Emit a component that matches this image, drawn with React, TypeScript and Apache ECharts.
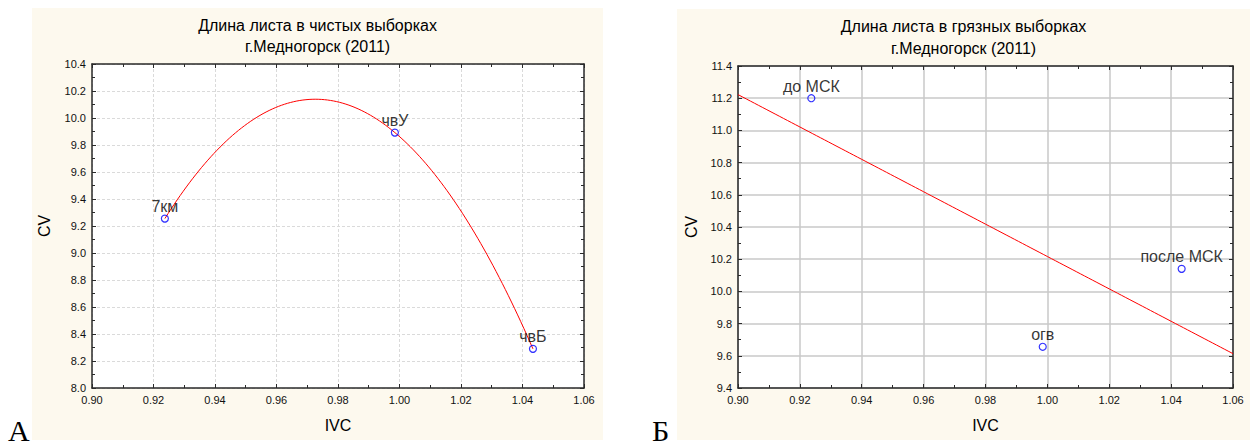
import React, { useEffect, useRef } from "react";
import * as echarts from "echarts";

// ---- Data ----
const xMin = 0.9;
const xMax = 1.06;
const xStep = 0.02;

const cleanNames = ["7км", "чвУ", "чвБ"];
const cleanIVC = [0.9237, 0.9985, 1.0434];
const cleanCV = [9.255, 9.892, 8.29];
const cleanYMin = 8.0;
const cleanYMax = 10.4;

const dirtyNames = ["до МСК", "огв", "после МСК"];
const dirtyIVC = [0.9237, 0.9985, 1.0434];
const dirtyCV = [11.2, 9.656, 10.14];
const dirtyYMin = 9.4;
const dirtyYMax = 11.4;
const yStep = 0.2;

const leftTitle = ["Длина листа в чистых выборках", "г.Медногорск (2011)"];
const rightTitle = ["Длина листа в грязных выборках", "г.Медногорск (2011)"];
const xName = "IVC";
const yName = "CV";
const panelLetters = ["А", "Б"];

// least squares polynomial fit on centered x
function polyfit(xs: number[], ys: number[], deg: number) {
  const mx = xs.reduce((a, b) => a + b, 0) / xs.length;
  const n = deg + 1;
  const A: number[][] = [];
  for (let r = 0; r < n; r++) {
    const row: number[] = [];
    for (let c = 0; c < n; c++) {
      row.push(xs.reduce((s, x) => s + Math.pow(x - mx, r + c), 0));
    }
    row.push(xs.reduce((s, x, i) => s + ys[i] * Math.pow(x - mx, r), 0));
    A.push(row);
  }
  for (let i = 0; i < n; i++) {
    let p = i;
    for (let k = i + 1; k < n; k++) if (Math.abs(A[k][i]) > Math.abs(A[p][i])) p = k;
    [A[i], A[p]] = [A[p], A[i]];
    for (let k = i + 1; k < n; k++) {
      const f = A[k][i] / A[i][i];
      for (let c = i; c <= n; c++) A[k][c] -= f * A[i][c];
    }
  }
  const coef = new Array(n).fill(0);
  for (let i = n - 1; i >= 0; i--) {
    let s = A[i][n];
    for (let c = i + 1; c < n; c++) s -= A[i][c] * coef[c];
    coef[i] = s / A[i][i];
  }
  return (x: number) => coef.reduce((s, c, i) => s + c * Math.pow(x - mx, i), 0);
}

const FONT = "'Liberation Sans', Arial, sans-serif";
const SERIF = "'Liberation Serif', 'Times New Roman', serif";

function axisPair(gridIndex: number, min: number, max: number, interval: number, digits: number, isX: boolean, gridColor: string, gridType: any, gridWidth: number) {
  const common = {
    gridIndex,
    type: "value",
    min,
    max,
    interval,
    axisLine: { show: true, onZero: false, lineStyle: { color: "#2a2a2a", width: 1.5 } },
    axisTick: { show: true, inside: true, length: 4, lineStyle: { color: "#2a2a2a", width: 1 } },
    minorTick: { show: true, splitNumber: 2, length: 3, lineStyle: { color: "#2a2a2a", width: 1 } },
  };
  const main = {
    ...common,
    position: isX ? "bottom" : "left",
    axisLabel: {
      show: true,
      margin: 6,
      fontSize: 11,
      fontFamily: FONT,
      color: "#111",
      formatter: (v: number) => v.toFixed(digits),
    },
    splitLine: { show: true, lineStyle: { color: gridColor, type: gridType, width: gridWidth } },
  };
  const opp = {
    ...common,
    position: isX ? "top" : "right",
    axisLabel: { show: false },
    splitLine: { show: false },
  };
  return [main, opp];
}

export default function App() {
  const ref = useRef<HTMLDivElement>(null);
  useEffect(() => {
    if (!ref.current) return;
    const chart = echarts.init(ref.current, undefined, { renderer: "svg" });

    const cleanFit = polyfit(cleanIVC, cleanCV, 2);
    const dirtyFit = polyfit(dirtyIVC, dirtyCV, 1);

    const fitSeries = (xi: number, yi: number, fn: (x: number) => number, x0: number, x1: number, anchor: number[]) => ({
      type: "custom",
      xAxisIndex: xi,
      yAxisIndex: yi,
      z: 2,
      silent: true,
      data: [anchor],
      renderItem: (_p: any, api: any) => {
        const pts: number[][] = [];
        const N = 120;
        for (let i = 0; i <= N; i++) {
          const x = x0 + ((x1 - x0) * i) / N;
          pts.push(api.coord([x, fn(x)]));
        }
        return {
          type: "polyline",
          shape: { points: pts },
          style: { stroke: "#ff0000", lineWidth: 1, fill: "none" },
        };
      },
    });

    const scatter = (xi: number, yi: number, xs: number[], ys: number[], names: string[]) => ({
      type: "scatter",
      xAxisIndex: xi,
      yAxisIndex: yi,
      z: 5,
      symbol: "circle",
      symbolSize: 7,
      itemStyle: { color: "transparent", borderColor: "#0000ff", borderWidth: 1.2 },
      label: {
        show: true,
        position: "top",
        distance: 0,
        formatter: "{b}",
        fontSize: 16,
        fontFamily: FONT,
        color: "#000",
      },
      data: xs.map((x, i) => ({ name: names[i], value: [x, ys[i]] })),
    });

    const [lx, lxt] = axisPair(0, xMin, xMax, xStep, 2, true, "#dadada", [3, 2], 1);
    const [ly, lyr] = axisPair(0, cleanYMin, cleanYMax, yStep, 1, false, "#dadada", [3, 2], 1);
    const [rx, rxt] = axisPair(1, xMin, xMax, xStep, 2, true, "#c8c8c8", "solid", 1.5);
    const [ry, ryr] = axisPair(1, dirtyYMin, dirtyYMax, yStep, 1, false, "#c8c8c8", "solid", 1.5);

    const txt = (text: string, x: number, y: number, size: number, extra: any = {}) => ({
      type: "text",
      x,
      y,
      z: 10,
      ...extra,
      style: {
        text,
        fontSize: size,
        fontFamily: extra.fontFamily || FONT,
        fill: "#000",
        align: "center",
        verticalAlign: "middle",
      },
    });

    chart.setOption({
      animation: false,
      backgroundColor: "#ffffff",
      grid: [
        { left: 92, top: 64, width: 492, height: 324, show: true, backgroundColor: "#ffffff", borderWidth: 0 },
        { left: 738, top: 66, width: 495, height: 322, show: true, backgroundColor: "#ffffff", borderWidth: 0 },
      ],
      xAxis: [lx, lxt, rx, rxt],
      yAxis: [ly, lyr, ry, ryr],
      graphic: [
        { type: "rect", z: -100, shape: { x: 32, y: 8, width: 571, height: 432 }, style: { fill: "#fdf9ee" } },
        { type: "rect", z: -100, shape: { x: 677, y: 9, width: 573, height: 431 }, style: { fill: "#fdf9ee" } },
        txt(leftTitle[0], 317.5, 25, 16),
        txt(leftTitle[1], 317.5, 46.5, 16),
        txt(rightTitle[0], 963.5, 26.5, 16),
        txt(rightTitle[1], 963.5, 48.5, 16),
        txt(xName, 338, 425, 16),
        txt(xName, 985.5, 425, 16),
        { ...txt(yName, 44, 226, 16), rotation: Math.PI / 2 },
        { ...txt(yName, 691, 227, 16), rotation: Math.PI / 2 },
        {
          type: "text", x: 8, y: 430, z: 10,
          style: { text: panelLetters[0], fontSize: 30, fontFamily: SERIF, fill: "#000", align: "left", verticalAlign: "middle" },
        },
        {
          type: "text", x: 652, y: 430, z: 10,
          style: { text: panelLetters[1], fontSize: 30, fontFamily: SERIF, fill: "#000", align: "left", verticalAlign: "middle" },
        },
      ],
      series: [
        fitSeries(0, 0, cleanFit, Math.min(...cleanIVC), Math.max(...cleanIVC), [cleanIVC[0], cleanCV[0]]),
        fitSeries(2, 2, dirtyFit, xMin, xMax, [dirtyIVC[0], dirtyCV[0]]),
        scatter(0, 0, cleanIVC, cleanCV, cleanNames),
        scatter(2, 2, dirtyIVC, dirtyCV, dirtyNames),
      ],
    });
    return () => chart.dispose();
  }, []);

  return (
    <div
      ref={ref}
      style={{ position: "fixed", left: 0, top: 0, width: 1257, height: 445 }}
    />
  );
}
